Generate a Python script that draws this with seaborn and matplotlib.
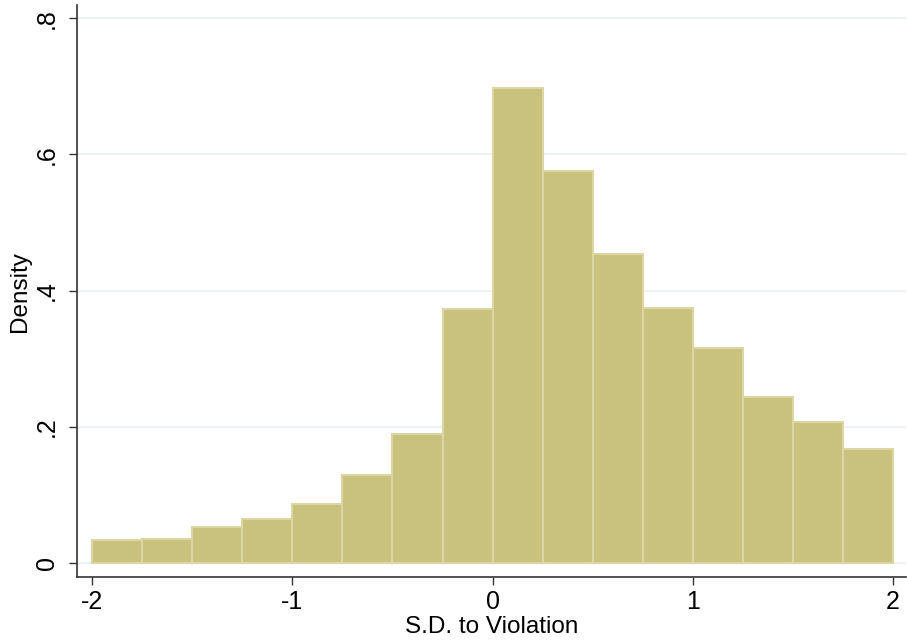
import numpy as np
import pandas as pd
import matplotlib
matplotlib.use("Agg")
import matplotlib.pyplot as plt
import seaborn as sns

# bin left edges (width 0.25) and density heights
bin_left = [-2.0, -1.75, -1.5, -1.25, -1.0, -0.75, -0.5, -0.25,
            0.0, 0.25, 0.5, 0.75, 1.0, 1.25, 1.5, 1.75]
density = [0.034, 0.036, 0.053, 0.065, 0.087, 0.129, 0.190, 0.373,
           0.697, 0.575, 0.453, 0.375, 0.316, 0.244, 0.207, 0.168]
bin_width = 0.25
x_ticks = [-2, -1, 0, 1, 2]
y_ticks = [0, 0.2, 0.4, 0.6, 0.8]
y_ticklabels = ["0", ".2", ".4", ".6", ".8"]

sns.set_style("white")
plt.rcParams['font.family'] = ['Liberation Sans', 'DejaVu Sans']
plt.rcParams['text.color'] = 'black'
plt.rcParams['axes.labelcolor'] = 'black'
plt.rcParams['xtick.labelcolor'] = 'black'
plt.rcParams['ytick.labelcolor'] = 'black'

df = pd.DataFrame({"x": np.array(bin_left) + bin_width / 2, "w": density})
edges = list(bin_left) + [bin_left[-1] + bin_width]

fig = plt.figure(figsize=(9.07, 6.42), dpi=100)
ax = fig.add_axes([0.085, 0.101, 0.914, 0.891])

for y in y_ticks:
    ax.axhline(y, color="#eaf2f3", lw=1.5, zorder=0)

sns.histplot(data=df, x="x", weights="w", bins=edges, stat="count",
             color="#c9c27f", edgecolor="#dcd7a2", linewidth=1.5,
             alpha=1, ax=ax, zorder=2)

ax.set_xlim(-2.075, 2.065)
ax.set_ylim(-0.0206, 0.819)
ax.set_xticks(x_ticks)
ax.set_xticklabels([str(t) for t in x_ticks])
ax.set_yticks(y_ticks)
ax.set_yticklabels(y_ticklabels, rotation=90, va="center")
ax.tick_params(axis="both", direction="out", length=6, width=1,
               color="#333333", labelsize=18, left=True, bottom=True)
ax.tick_params(axis="x", pad=3)
ax.tick_params(axis="y", pad=7)
ax.set_xlabel("S.D. to Violation", fontsize=17.5, labelpad=2)
ax.set_ylabel("Density", fontsize=17.5, labelpad=3)

for side in ["top", "right"]:
    ax.spines[side].set_visible(False)
for side in ["left", "bottom"]:
    ax.spines[side].set_color("#333333")
    ax.spines[side].set_linewidth(1.2)

fig.savefig("out.png", dpi=100)
